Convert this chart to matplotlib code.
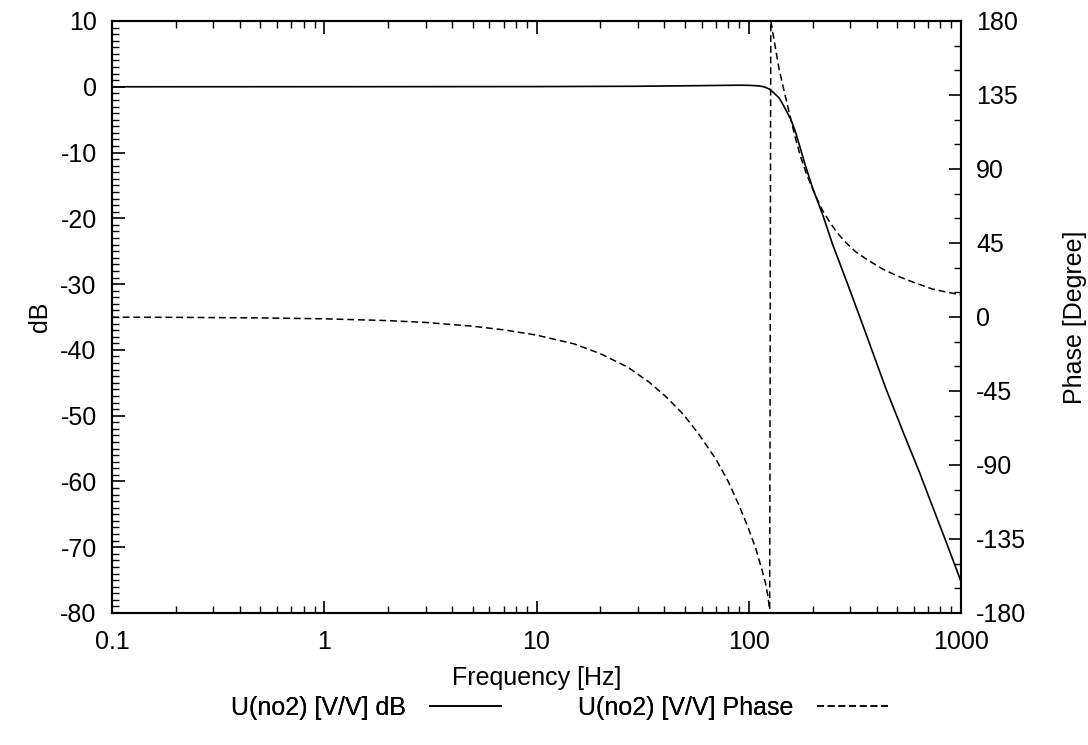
import matplotlib
matplotlib.use('Agg')
import matplotlib.pyplot as plt
from matplotlib.ticker import FixedLocator, LogLocator, NullFormatter, MultipleLocator

plt.rcParams['font.family'] = ['Liberation Sans', 'DejaVu Sans']
plt.rcParams['axes.unicode_minus'] = False

# magnitude
freq_db = [0.1, 1, 10, 30, 50, 70, 90, 100, 110, 116, 120, 125, 130, 135, 139, 145,
           150, 158, 165, 173, 185, 200, 225, 248, 290, 332, 385, 443, 540, 637, 740,
           849, 920, 1000]
gain_db = [0.0, 0.01, 0.03, 0.08, 0.15, 0.2, 0.24, 0.22, 0.15, 0.05, -0.1, -0.35,
           -0.8, -1.3, -1.7, -2.7, -3.6, -5.0, -6.6, -8.8, -12.0, -15.4, -19.8, -23.9,
           -29.7, -34.8, -40.5, -45.9, -52.9, -58.6, -64.1, -69.1, -72.1, -75.2]

# phase (wraps from -180 to +180 near 126 Hz)
freq_ph = [0.1, 0.2, 0.5, 1, 2, 3, 5, 7, 10, 15, 20, 27, 34, 41, 49, 58, 70, 80, 90,
           100, 108, 115, 120, 123, 125.5,
           127, 133, 139, 147, 155, 165, 175, 187, 200, 220, 240, 260, 286, 320, 360,
           427, 500, 600, 733, 850, 1000]
phase = [-0.1, -0.2, -0.55, -1.1, -2.2, -3.3, -5.6, -7.8, -11.0, -16.3, -22.3, -30.6,
         -39.7, -48.8, -59.0, -71.0, -86.4, -100.0, -114.6, -129.0, -141.0, -153.0,
         -162.0, -169.5, -178.0,
         180.0, 165.0, 150.8, 137.0, 124.5, 110.0, 98.0, 87.0, 77.9, 66.0, 58.0,
         51.5, 45.4, 39.5, 35.0, 29.2, 25.0, 21.0, 17.0, 15.2, 13.5]

fig = plt.figure(figsize=(10.88, 7.45), dpi=100)
ax = fig.add_axes([112/1088, 1 - 613/745, (961 - 112)/1088, (613 - 21)/745])
ax2 = ax.twinx()

l1, = ax.semilogx(freq_db, gain_db, color='black', lw=1.2, label='U(no2) [V/V] dB')
l2, = ax2.semilogx(freq_ph, phase, color='black', lw=1.1, dashes=(4.5, 2.5),
                   label='U(no2) [V/V] Phase')

ax.set_xlim(0.1, 1000)
ax.set_ylim(-80, 10)
ax2.set_ylim(-180, 180)

ax.xaxis.set_major_locator(FixedLocator([0.1, 1, 10, 100, 1000]))
ax.set_xticklabels(['0.1', '1', '10', '100', '1000'])
ax.xaxis.set_minor_locator(LogLocator(base=10, subs=range(2, 10)))
ax.xaxis.set_minor_formatter(NullFormatter())
ax.yaxis.set_major_locator(MultipleLocator(10))
ax.yaxis.set_minor_locator(MultipleLocator(1))
ax2.yaxis.set_major_locator(MultipleLocator(45))
ax2.yaxis.set_minor_locator(MultipleLocator(15))

fs = 18
ax.tick_params(axis='x', which='both', direction='in', top=True, labelsize=fs, pad=12)
ax.tick_params(axis='y', which='both', direction='in', right=False, labelsize=fs, pad=11)
ax2.tick_params(axis='y', which='both', direction='in', labelsize=fs, pad=11)
for a in (ax, ax2):
    a.tick_params(which='major', length=9, width=1.2)
    a.tick_params(which='minor', length=5, width=1.0)
    for s in a.spines.values():
        s.set_linewidth(1.5)

ax.set_xlabel('Frequency [Hz]', fontsize=fs, labelpad=9)
ax.set_ylabel('dB', fontsize=fs, labelpad=6)
ax2.set_ylabel('Phase [Degree]', fontsize=fs, labelpad=26)

# gnuplot-style key below: text right-aligned, sample after it
leg_y = 1 - 708/745
for handle, x_end in [(l1, 501/1088), (l2, 888/1088)]:
    leg = fig.legend(handles=[handle], loc='center right', bbox_to_anchor=(x_end, leg_y),
                     frameon=False, markerfirst=False, fontsize=fs, borderpad=0,
                     borderaxespad=0, handlelength=2.84, handletextpad=0.96)
    fig.add_artist(leg)

fig.savefig('out.png', dpi=100)
